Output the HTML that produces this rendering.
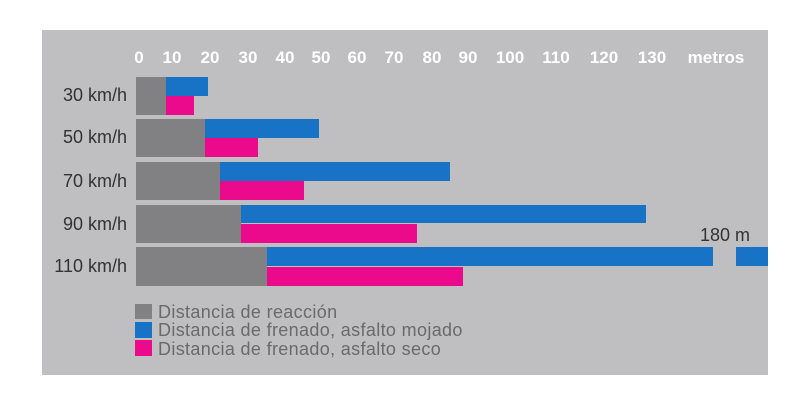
<!DOCTYPE html>
<html><head><meta charset="utf-8"><style>
html,body{margin:0;padding:0;background:#fff;}
#c{position:relative;width:800px;height:417px;overflow:hidden;font-family:"Liberation Sans",sans-serif;}
#p{position:absolute;left:42px;top:30px;width:726px;height:345px;background:#bfbfc1;}
.b{position:absolute;}
.g{background:#818183;}
.bl{background:#1873c6;}
.pk{background:#ec0a8c;}
.t{position:absolute;top:48px;color:#fff;font-weight:bold;font-size:17px;transform:translateX(-50%);}
.l{position:absolute;right:673px;color:#333;font-size:18px;white-space:nowrap;}
.lg{position:absolute;left:158px;color:#6a6a6c;font-size:18px;letter-spacing:0.35px;white-space:nowrap;}
</style></head><body><div id="c">
<div id="p"></div>
<div class="t" style="left:139px">0</div>
<div class="t" style="left:172px">10</div>
<div class="t" style="left:210px">20</div>
<div class="t" style="left:248px">30</div>
<div class="t" style="left:285px">40</div>
<div class="t" style="left:321px">50</div>
<div class="t" style="left:357px">60</div>
<div class="t" style="left:394px">70</div>
<div class="t" style="left:432px">80</div>
<div class="t" style="left:468px">90</div>
<div class="t" style="left:510px">100</div>
<div class="t" style="left:556px">110</div>
<div class="t" style="left:604px">120</div>
<div class="t" style="left:652px">130</div>
<div class="t" style="left:716px">metros</div>

<div class="l" style="top:85px">30 km/h</div>
<div class="l" style="top:127px">50 km/h</div>
<div class="l" style="top:171px">70 km/h</div>
<div class="l" style="top:214px">90 km/h</div>
<div class="l" style="top:256px">110 km/h</div>

<div class="b g" style="left:136px;top:77px;width:30px;height:38px"></div>
<div class="b bl" style="left:166px;top:77px;width:42px;height:19px"></div>
<div class="b pk" style="left:166px;top:96px;width:28px;height:19px"></div>

<div class="b g" style="left:136px;top:119px;width:69px;height:38px"></div>
<div class="b bl" style="left:205px;top:119px;width:114px;height:19px"></div>
<div class="b pk" style="left:205px;top:138px;width:53px;height:19px"></div>

<div class="b g" style="left:136px;top:162px;width:84px;height:38px"></div>
<div class="b bl" style="left:220px;top:162px;width:230px;height:19px"></div>
<div class="b pk" style="left:220px;top:181px;width:84px;height:19px"></div>

<div class="b g" style="left:136px;top:205px;width:105px;height:38px"></div>
<div class="b bl" style="left:241px;top:205px;width:405px;height:18px"></div>
<div class="b pk" style="left:241px;top:224px;width:176px;height:19px"></div>

<div class="b g" style="left:136px;top:247px;width:131px;height:39px"></div>
<div class="b bl" style="left:267px;top:247px;width:446px;height:19px"></div>
<div class="b bl" style="left:736px;top:247px;width:32px;height:19px"></div>
<div class="b pk" style="left:267px;top:267px;width:196px;height:19px"></div>
<div style="position:absolute;left:700px;top:225px;color:#333;font-size:18px">180 m</div>

<div class="b g" style="left:135px;top:304px;width:17px;height:15px"></div>
<div class="b bl" style="left:135px;top:322px;width:17px;height:16px"></div>
<div class="b pk" style="left:135px;top:340px;width:17px;height:16px"></div>
<div class="lg" style="top:302px">Distancia de reacción</div>
<div class="lg" style="top:320px">Distancia de frenado, asfalto mojado</div>
<div class="lg" style="top:339px">Distancia de frenado, asfalto seco</div>
</div></body></html>
